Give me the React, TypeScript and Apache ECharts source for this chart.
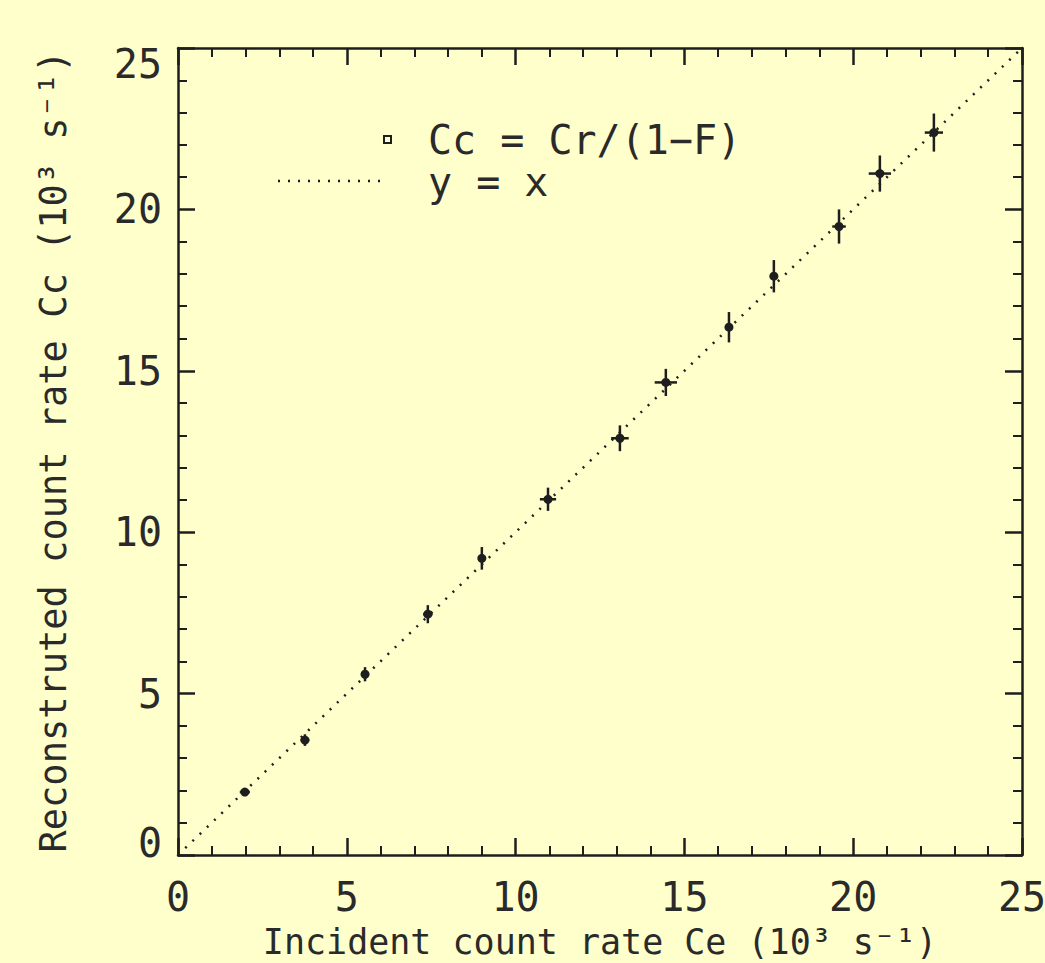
import React, { useEffect, useRef } from "react";
import * as echarts from "echarts";

// incident count rate Ce (10^3 s^-1)
const ceValues = [1.98, 3.76, 5.54, 7.4, 9.0, 10.96, 13.09, 14.45, 16.32, 17.65, 19.58, 20.79, 22.39];
// reconstructed count rate Cc (10^3 s^-1)
const ccValues = [1.95, 3.56, 5.6, 7.46, 9.19, 11.02, 12.91, 14.64, 16.35, 17.93, 19.47, 21.11, 22.38];
const ceErrors = [0.15, 0.13, 0.1, 0.14, 0.1, 0.24, 0.26, 0.33, 0.1, 0.1, 0.2, 0.33, 0.27];
const ccErrors = [0.11, 0.18, 0.22, 0.28, 0.35, 0.36, 0.4, 0.42, 0.47, 0.5, 0.53, 0.56, 0.59];
const identityLine = [[0, 0], [25, 25]];

const legendLabels = ["Cc = Cr/(1\u2212F)", "y = x"];
const xTitle = "Incident count rate Ce (10\u00b3 s\u207b\u00b9)";
const yTitle = "Reconstruted count rate Cc (10\u00b3 s\u207b\u00b9)";

const INK = "#1e1e1e";
const TEXT = "#2a2a2a";
const FONT = "DejaVu Sans Mono";

export default function App() {
  const ref = useRef<HTMLDivElement>(null);
  useEffect(() => {
    if (!ref.current) return;
    const chart = echarts.init(ref.current, null, { renderer: "svg" });
    const points = ceValues.map((x, i) => [x, ccValues[i], ceErrors[i], ccErrors[i]]);

    const labelStyle = { color: TEXT, fontFamily: FONT, fontSize: 40 };

    const axisCommon = (showLabels: boolean) => ({
      type: "value",
      min: 0,
      max: 25,
      interval: 5,
      axisLine: { show: true, onZero: false, lineStyle: { color: INK, width: 2.5 } },
      axisTick: { show: true, inside: true, length: 17, lineStyle: { color: INK, width: 2.5 } },
      minorTick: { show: true, splitNumber: 5, length: 9, lineStyle: { color: INK, width: 2 } },
      splitLine: { show: false },
      axisLabel: { show: showLabels, ...labelStyle },
    });

    chart.setOption({
      animation: false,
      backgroundColor: "#FFFFCC",
      grid: { left: 178, right: 23, top: 48, bottom: 108, containLabel: false, outerBoundsMode: "none" },
      xAxis: [
        {
          ...axisCommon(true),
          position: "bottom",
          axisLabel: { ...axisCommon(true).axisLabel, margin: 22 },
          name: xTitle,
          nameLocation: "middle",
          nameGap: 69,
          nameTextStyle: { color: TEXT, fontFamily: FONT, fontSize: 35 },
        },
        { ...axisCommon(false), position: "top" },
      ],
      yAxis: [
        {
          ...axisCommon(true),
          position: "left",
          axisLabel: {
            ...axisCommon(true).axisLabel,
            margin: 16,
            formatter: (v: number) =>
              v === 25 ? "{top|" + v + "}" : v === 0 ? "{bot|" + v + "}" : "{mid|" + v + "}",
            rich: {
              top: { ...labelStyle, padding: [32, 0, 0, 0] },
              bot: { ...labelStyle, padding: [0, 0, 24, 0] },
              mid: { ...labelStyle },
            },
          },
          name: yTitle,
          nameLocation: "middle",
          nameGap: 106,
          nameTextStyle: { color: TEXT, fontFamily: FONT, fontSize: 37 },
        },
        { ...axisCommon(false), position: "right" },
      ],
      series: [
        {
          type: "line",
          data: identityLine,
          xAxisIndex: 0,
          yAxisIndex: 0,
          showSymbol: false,
          symbol: "none",
          lineStyle: { color: INK, width: 2.5, type: [2, 8] },
          silent: true,
        },
        {
          type: "custom",
          xAxisIndex: 0,
          yAxisIndex: 0,
          data: points,
          renderItem: (params: any, api: any) => {
            const x = api.value(0);
            const y = api.value(1);
            const xe = api.value(2);
            const ye = api.value(3);
            const c = api.coord([x, y]);
            const l = api.coord([x - xe, y]);
            const r = api.coord([x + xe, y]);
            const t = api.coord([x, y + ye]);
            const b = api.coord([x, y - ye]);
            const st = { stroke: INK, lineWidth: 2.5 };
            return {
              type: "group",
              children: [
                { type: "line", shape: { x1: l[0], y1: l[1], x2: r[0], y2: r[1] }, style: st },
                { type: "line", shape: { x1: t[0], y1: t[1], x2: b[0], y2: b[1] }, style: st },
                { type: "circle", shape: { cx: c[0], cy: c[1], r: 4.5 }, style: { fill: INK } },
              ],
            };
          },
        },
      ],
      graphic: [
        {
          type: "rect",
          shape: { x: 384, y: 136, width: 7, height: 7 },
          style: { fill: "none", stroke: INK, lineWidth: 2 },
        },
        {
          type: "line",
          shape: { x1: 278, y1: 181, x2: 384, y2: 181 },
          style: { stroke: INK, lineWidth: 2.5, lineDash: [2, 8] },
        },
        {
          type: "text",
          x: 428,
          y: 140,
          style: {
            text: legendLabels[0],
            fill: TEXT,
            font: `40px "${FONT}"`,
            verticalAlign: "middle",
            align: "left",
          },
        },
        {
          type: "text",
          x: 428,
          y: 182,
          style: {
            text: legendLabels[1],
            fill: TEXT,
            font: `40px "${FONT}"`,
            verticalAlign: "middle",
            align: "left",
          },
        },
      ],
    });
    return () => chart.dispose();
  }, []);
  return (
    <div
      ref={ref}
      style={{ position: "fixed", left: 0, top: 0, width: 1045, height: 963 }}
    />
  );
}
